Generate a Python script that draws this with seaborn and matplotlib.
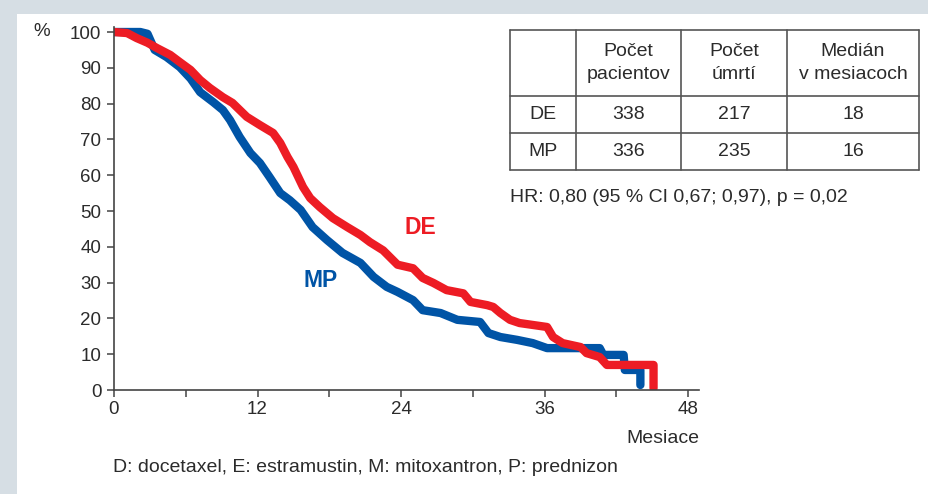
import matplotlib
matplotlib.use("Agg")
import matplotlib.pyplot as plt
from matplotlib.lines import Line2D
from matplotlib.patches import Rectangle
import seaborn as sns
import pandas as pd

# ---- data ----
de_months = [0, 1.1, 1.9, 2.8, 3.6, 4.7, 5.5, 6.4, 7.2, 8.0, 9.1, 9.9, 11.1, 12.2, 13.3,
             13.9, 14.5, 15.0, 15.8, 16.4, 17.2, 18.3, 19.5, 20.6, 21.4, 22.5, 23.7, 25.0,
             25.8, 26.7, 27.8, 29.2, 29.8, 31.2, 31.7, 32.3, 33.1, 33.9, 36.2, 36.7, 37.5,
             39.0, 39.5, 40.6, 41.2, 45.1, 45.1]
de_surv = [100, 99.7, 98.3, 97, 95.5, 93.6, 91.6, 89.4, 86.6, 84.4, 81.8, 80.2, 76.3, 74, 71.8,
           69, 65.1, 62.3, 56.7, 53.6, 51.1, 48, 45.5, 43.3, 41.3, 39, 35, 34,
           31.3, 29.9, 27.9, 27, 24.6, 23.7, 23.2, 21.5, 19.6, 18.7, 17.6, 14.8, 13.1,
           12, 10.3, 9.2, 7, 7, 0.5]

mp_months = [0, 2.2, 2.8, 3.4, 4.4, 5.5, 6.4, 7.2, 8.3, 9.1, 9.7, 10.5, 11.4, 12.2, 13.0,
             13.9, 14.7, 15.6, 16.6, 17.8, 19.1, 20.6, 21.7, 22.8, 23.7, 25.0, 25.8, 27.3,
             28.7, 30.6, 31.3, 32.3, 33.7, 35.0, 36.2, 40.6, 40.9, 42.6, 42.7, 44.0, 44.0]
mp_surv = [100, 100, 99.5, 95, 93, 90.2, 87, 83.2, 80.4, 78.2, 75.4, 70.7, 66.2, 63.4, 59.5,
           55, 53, 50.3, 45.5, 41.9, 38.3, 35.5, 31.6, 28.8, 27.4, 25.1, 22.3, 21.5,
           19.6, 19, 15.9, 14.8, 14, 13.1, 11.7, 11.7, 9.8, 9.8, 5.6, 5.6, 1.4]

x_ticks = [0, 12, 24, 36, 48]
x_minor = [6, 18, 30, 42]
y_ticks = [0, 10, 20, 30, 40, 50, 60, 70, 80, 90, 100]

table_header = ["", "Počet\npacientov", "Počet\númrtí", "Medián\nv mesiacoch"]
table_rows = [["DE", "338", "217", "18"],
              ["MP", "336", "235", "16"]]
hr_text = "HR: 0,80 (95 % CI 0,67; 0,97), p = 0,02"
footer = "D: docetaxel, E: estramustin, M: mitoxantron, P: prednizon"

RED = "#ED1C24"
BLUE = "#0054A6"
GRAY_TXT = "#2b2b2b"
FS = 14

sns.set_style("white")
plt.rcParams["font.family"] = ["Liberation Sans", "DejaVu Sans"]

W, H = 929, 494
fig = plt.figure(figsize=(W / 100, H / 100), dpi=100)
fig.patch.set_facecolor("#d6dee4")
fig.add_artist(Rectangle((17 / W, 0), 1 - 17 / W, (H - 14) / H, transform=fig.transFigure,
                         facecolor="white", edgecolor="none", zorder=0))

ax = fig.add_axes([114 / W, 104 / H, 585 / W, 363 / H])
ax.set_facecolor("none")

df = pd.concat([
    pd.DataFrame({"month": mp_months, "surv": mp_surv, "group": "MP"}),
    pd.DataFrame({"month": de_months, "surv": de_surv, "group": "DE"}),
])
sns.lineplot(data=df, x="month", y="surv", hue="group", hue_order=["MP", "DE"],
             palette={"MP": BLUE, "DE": RED}, estimator=None, sort=False,
             linewidth=6, legend=False, ax=ax)
for ln in ax.get_lines():
    ln.set_solid_capstyle("round")
    ln.set_solid_joinstyle("round")

ax.set_xlim(0, 48.9)
ax.set_ylim(0, 101.4)
ax.set_xticks(x_ticks)
ax.set_xticks(x_minor, minor=True)
ax.set_yticks(y_ticks)
ax.set_xlabel("")
ax.set_ylabel("")
for s in ["top", "right"]:
    ax.spines[s].set_visible(False)
for s in ["left", "bottom"]:
    ax.spines[s].set_color("#444444")
    ax.spines[s].set_linewidth(1.2)
ax.tick_params(axis="both", which="both", direction="out", length=5, width=1.1,
               color="#444444", labelcolor=GRAY_TXT, labelsize=13.5, bottom=True, left=True)
ax.tick_params(axis="x", pad=3)
ax.tick_params(axis="y", pad=4)

ax.text(25.6, 45.3, "DE", color=RED, fontsize=16.5, fontweight="bold", ha="center", va="center")
ax.text(17.3, 30.7, "MP", color=BLUE, fontsize=16.5, fontweight="bold", ha="center", va="center")

fig.text(42 / W, 1 - 31 / H, "%", fontsize=13.5, color=GRAY_TXT, ha="center", va="center")
fig.text(699 / W, 1 - 438 / H, "Mesiace", fontsize=FS, color=GRAY_TXT, ha="right", va="center")
fig.text(113 / W, 1 - 467 / H, footer, fontsize=FS, color=GRAY_TXT, ha="left", va="center")

# ---- table ----
cols = [510, 576, 681, 787, 919]
rows = [30, 96, 133, 170]
lc = "#555555"
for xc in cols:
    fig.add_artist(Line2D([xc / W, xc / W], [1 - rows[0] / H, 1 - rows[-1] / H],
                          transform=fig.transFigure, color=lc, lw=1.2))
for yc in rows:
    fig.add_artist(Line2D([cols[0] / W, cols[-1] / W], [1 - yc / H, 1 - yc / H],
                          transform=fig.transFigure, color=lc, lw=1.2))
for i, txt in enumerate(table_header):
    cx = (cols[i] + cols[i + 1]) / 2
    cy = (rows[0] + rows[1]) / 2
    fig.text(cx / W, 1 - cy / H, txt, fontsize=FS, color=GRAY_TXT, ha="center", va="center",
             linespacing=1.4)
for r, row in enumerate(table_rows):
    cy = (rows[r + 1] + rows[r + 2]) / 2
    for i, txt in enumerate(row):
        cx = (cols[i] + cols[i + 1]) / 2
        fig.text(cx / W, 1 - cy / H, txt, fontsize=FS, color=GRAY_TXT, ha="center", va="center")
fig.text(510 / W, 1 - 197 / H, hr_text, fontsize=FS, color=GRAY_TXT, ha="left", va="center")

fig.savefig("out.png", dpi=100, facecolor=fig.get_facecolor())
